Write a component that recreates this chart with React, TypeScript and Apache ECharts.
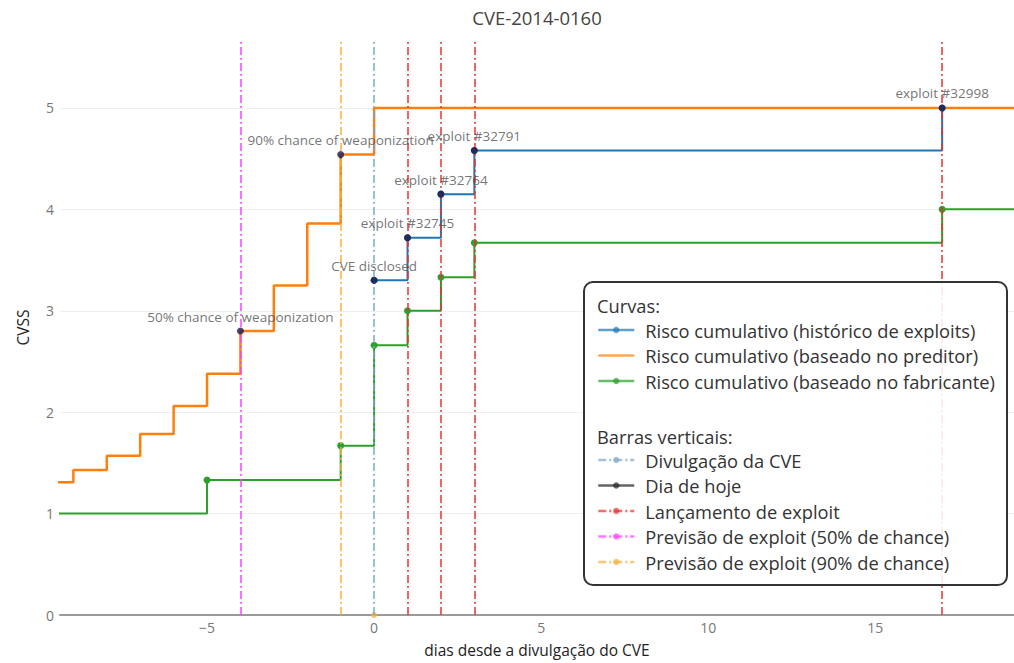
import React, { useEffect, useRef } from "react";
import * as echarts from "echarts";

const TITLE = "CVE-2014-0160";
const X_NAME = "dias desde a divulgação do CVE";
const Y_NAME = "CVSS";

// Cumulative risk curves (step, horizontal then vertical)
const histX = [0, 1, 2, 3, 17, 20];
const histY = [3.3, 3.72, 4.15, 4.58, 5.0, 5.0];

const predX = [-10, -9, -8, -7, -6, -5, -4, -3, -2, -1, 0, 20];
const predY = [1.31, 1.43, 1.57, 1.785, 2.06, 2.38, 2.8, 3.25, 3.86, 4.54, 5.0, 5.0];

const vendX = [-10, -5, -1, 0, 1, 2, 3, 17, 20];
const vendY = [1.0, 1.33, 1.67, 2.66, 3.0, 3.33, 3.67, 4.0, 4.0];

// Annotated points
const annotX = [-4, -1, 0, 1, 2, 3, 17];
const annotY = [2.8, 4.54, 3.3, 3.72, 4.15, 4.58, 5.0];
const annotText = [
  "50% chance of weaponization",
  "90% chance of weaponization",
  "CVE disclosed",
  "exploit #32745",
  "exploit #32764",
  "exploit #32791",
  "exploit #32998",
];

// Vertical bars
const discloseDays = [0];
const todayDays: number[] = [];
const exploitDays = [1, 2, 3, 17];
const pred50Days = [-4];
const pred90Days = [-1];

const originMarkX = [0];
const originMarkY = [0];

const curveNames = [
  "Risco cumulativo (histórico de exploits)",
  "Risco cumulativo (baseado no preditor)",
  "Risco cumulativo (baseado no fabricante)",
];
const barNames = [
  "Divulgação da CVE",
  "Dia de hoje",
  "Lançamento de exploit",
  "Previsão de exploit (50% de chance)",
  "Previsão de exploit (90% de chance)",
];

const FONT = "'Open Sans', 'DejaVu Sans', sans-serif";
const DASHDOT = [8, 3, 2, 3];
const LEGEND_FS = 18.3;

function zip(xs: number[], ys: number[]) {
  return xs.map((x, i) => [x, ys[i]]);
}

export default function App() {
  const ref = useRef<HTMLDivElement>(null);
  useEffect(() => {
    if (!ref.current) return;
    const chart = echarts.init(ref.current, null, { renderer: "svg" });

    const vbar = (name: string, color: string, days: number[], dash: any) => ({
      name,
      type: "line",
      data: [],
      symbol: "circle",
      symbolSize: 7,
      itemStyle: { color },
      lineStyle: { color, width: 1.5, type: dash },
      z: 3,
      markLine: {
        silent: true,
        symbol: ["none", "none"],
        label: { show: false },
        lineStyle: { color, width: 1.5, type: dash },
        data: days.map((d) => ({ xAxis: d })),
        animation: false,
      },
    });

    const legendBase = {
      orient: "vertical",
      left: 597,
      padding: 0,
      itemGap: 5.5,
      itemWidth: 36,
      itemHeight: 8,
      z: 20,
      textStyle: { color: "#333", fontSize: LEGEND_FS, lineHeight: 20, fontFamily: FONT, padding: [0, 0, 0, 6] },
      itemStyle: { opacity: 0.7 },
      lineStyle: { opacity: 0.7, width: 2.5 },
      selectedMode: false,
    };

    const option: any = {
      animation: false,
      textStyle: { fontFamily: FONT },
      grid: { left: 60, right: 0, top: 40, bottom: 48 },
      xAxis: {
        type: "value",
        min: -9.4,
        max: 19.15,
        name: X_NAME,
        nameLocation: "middle",
        nameGap: 27,
        nameTextStyle: { color: "#222", fontSize: 15.5, fontFamily: FONT },
        axisLine: { show: true, lineStyle: { color: "#9a9a9a", width: 2 } },
        axisTick: { show: false },
        splitLine: { show: false },
        axisLabel: {
          color: "#777",
          fontSize: 14,
          margin: 5,
          showMinLabel: false,
          showMaxLabel: false,
          fontFamily: FONT,
          formatter: (v: number) =>
            Math.abs(v % 5) < 1e-9 ? (v < 0 ? "\u2212" + Math.abs(v) : String(v)) : "",
        },
      },
      yAxis: {
        type: "value",
        min: 0,
        max: 5.67,
        interval: 1,
        name: Y_NAME,
        nameLocation: "middle",
        nameGap: 29,
        nameRotate: 90,
        nameTextStyle: { color: "#222", fontSize: 15.5, fontFamily: FONT },
        axisLine: { show: false },
        axisTick: { show: false },
        axisLabel: {
          color: "#777",
          fontSize: 14,
          margin: 6,
          showMaxLabel: false,
          fontFamily: FONT,
        },
        splitLine: { show: true, showMaxLine: false, showMinLine: false, lineStyle: { color: "#eeeeee", width: 1 } },
      },
      legend: [
        {
          ...legendBase,
          top: 320,
          data: curveNames.map((n, i) => (i === 1 ? { name: n, icon: "path://M0,0H36V2.5H0Z" } : { name: n })),
        },
        {
          ...legendBase,
          top: 450,
          data: barNames,
        },
      ],
      graphic: {
        elements: [
          {
            type: "text",
            x: 537,
            y: 17,
            z: 10,
            style: { text: TITLE, fill: "#444", fontSize: 18.5, fontFamily: FONT, align: "center", verticalAlign: "middle" },
          },
          {
            type: "rect",
            z: 10,
            shape: { x: 584, y: 282, width: 423, height: 303, r: 9 },
            style: { fill: "rgba(255,255,255,0.88)", stroke: "#333", lineWidth: 2 },
          },
          {
            type: "text",
            x: 597,
            y: 305,
            z: 21,
            style: { text: "Curvas:", fill: "#333", fontSize: LEGEND_FS, fontFamily: FONT, verticalAlign: "middle" },
          },
          {
            type: "text",
            x: 597,
            y: 436,
            z: 21,
            style: { text: "Barras verticais:", fill: "#333", fontSize: LEGEND_FS, fontFamily: FONT, verticalAlign: "middle" },
          },
        ],
      },
      series: [
        {
          name: curveNames[0],
          type: "line",
          step: "end",
          data: zip(histX, histY),
          symbol: "circle",
          symbolSize: 7,
          showSymbol: true,
          clip: true,
          itemStyle: { color: "#1f77b4" },
          lineStyle: { color: "#1f77b4", width: 2 },
          z: 2,
        },
        {
          name: curveNames[1],
          type: "line",
          step: "end",
          data: zip(predX, predY),
          symbol: "none",
          clip: true,
          itemStyle: { color: "#ff7f0e" },
          lineStyle: { color: "#ff7f0e", width: 2.5 },
          z: 2,
        },
        {
          name: curveNames[2],
          type: "line",
          step: "end",
          data: zip(vendX, vendY),
          symbol: "circle",
          symbolSize: 7,
          showSymbol: true,
          clip: true,
          itemStyle: { color: "#2ca02c" },
          lineStyle: { color: "#2ca02c", width: 2 },
          z: 2,
        },
        vbar(barNames[0], "#7ea7c8", discloseDays, DASHDOT),
        vbar(barNames[1], "#222222", todayDays, "solid"),
        vbar(barNames[2], "#ee3030", exploitDays, DASHDOT),
        vbar(barNames[3], "#ff40ff", pred50Days, DASHDOT),
        vbar(barNames[4], "#f5b13a", pred90Days, DASHDOT),
        {
          name: "origin",
          type: "scatter",
          data: zip(originMarkX, originMarkY),
          symbol: "circle",
          symbolSize: 6,
          itemStyle: { color: "#f0b040" },
          z: 4,
          silent: true,
        },
        {
          name: "annotations",
          type: "scatter",
          data: annotX.map((x, i) => ({ value: [x, annotY[i]], label: { formatter: annotText[i] } })),
          symbol: "circle",
          symbolSize: 7,
          itemStyle: { color: "#1c1a48" },
          z: 5,
          silent: true,
          label: {
            show: true,
            position: "top",
            distance: 4,
            color: "#505050",
            fontSize: 13.5,
            fontFamily: FONT,
          },
        },
      ],
    };
    chart.setOption(option);
    return () => chart.dispose();
  }, []);
  return (
    <div
      ref={ref}
      style={{ position: "fixed", left: 0, top: 0, width: 1014, height: 663, background: "#fff" }}
    />
  );
}
